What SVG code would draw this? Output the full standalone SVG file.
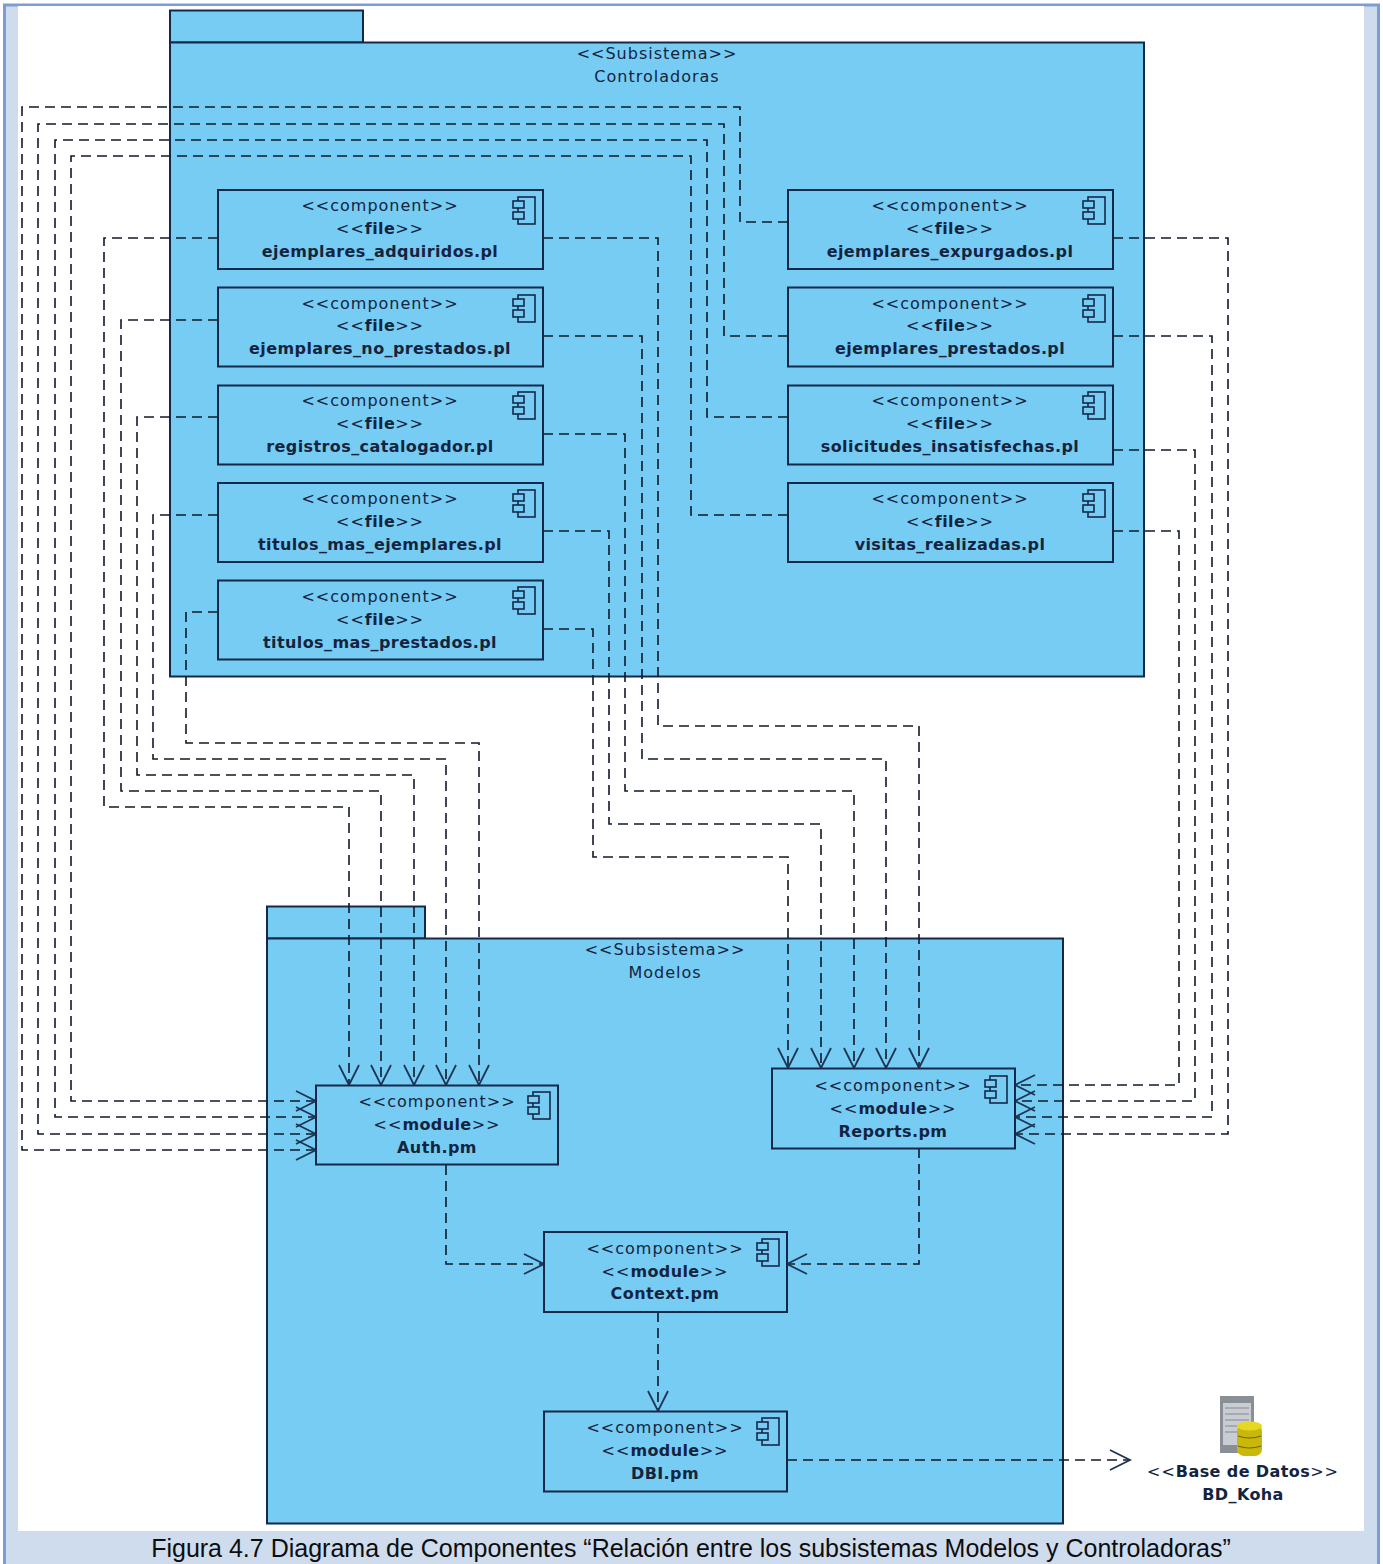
<svg xmlns="http://www.w3.org/2000/svg" width="1383" height="1564" viewBox="0 0 1383 1564">
<style>
.pk{fill:#77ccf3;stroke:#14294a;stroke-width:2}
.cp{fill:#77ccf3;stroke:#14294a;stroke-width:2}
.ic{fill:none;stroke:#14294a;stroke-width:1.6}
.ib{fill:#77ccf3;stroke:#14294a;stroke-width:1.6}
.t{font-family:"DejaVu Sans",sans-serif;font-size:16px;fill:#14243f;text-anchor:middle;letter-spacing:1px}
.b{font-weight:bold;letter-spacing:.4px}
.d{fill:none;stroke:#111a2a;stroke-width:1.6;stroke-dasharray:10 6}
.a{marker-end:url(#ar)}
</style>
<defs>
<marker id="ar" markerUnits="userSpaceOnUse" markerWidth="24" markerHeight="26" refX="21" refY="13" orient="auto"><path d="M1 3L21 13L1 23" fill="none" stroke="#1c3557" stroke-width="1.8"/></marker>
<g id="ico"><rect class="ib" x="-25" y="7" width="17" height="27"/><rect class="ib" x="-30" y="11" width="11" height="7"/><rect class="ib" x="-30" y="22" width="11" height="7"/></g>
</defs>
<rect x="0" y="0" width="1383" height="1564" fill="#fff"/>
<g id="frame">
<rect x="4.500" y="5" width="1374" height="1570" fill="#cfdcee" stroke="#7c9dd3" stroke-width="3"/>
<rect x="18" y="6" width="1346" height="1525" fill="#fff"/>
</g>
<g id="pkg-controladoras">
<rect class="pk" x="170" y="10.500" width="193" height="32"/><rect class="pk" x="170" y="42.500" width="974" height="634"/>
<text class="t" x="657" y="59">&lt;&lt;Subsistema&gt;&gt;</text><text class="t" x="657" y="82">Controladoras</text>
</g>
<g id="pkg-modelos">
<rect class="pk" x="267" y="906.500" width="158" height="32"/><rect class="pk" x="267" y="938.500" width="796" height="585"/>
<text class="t" x="665" y="955">&lt;&lt;Subsistema&gt;&gt;</text><text class="t" x="665" y="978">Modelos</text>
</g>
<g id="connectors">
<path class="d a" d="M218 238H104V807H349V1085"/>
<path class="d a" d="M218 320H121V791H381V1085"/>
<path class="d a" d="M218 417H137V775H414V1085"/>
<path class="d a" d="M218 515H153V759H446V1085"/>
<path class="d a" d="M218 612H186V743H479V1085"/>
<path class="d a" d="M543 238H658V726H919V1068"/>
<path class="d a" d="M543 336H642V759H886V1068"/>
<path class="d a" d="M543 434H625V791H854V1068"/>
<path class="d a" d="M543 531H609V824H821V1068"/>
<path class="d a" d="M543 629H593V857H788V1068"/>
<path class="d a" d="M788 222H740V107H22V1150H316"/>
<path class="d a" d="M788 336H724V124H38V1134H316"/>
<path class="d a" d="M788 417H707V140H55V1117H316"/>
<path class="d a" d="M788 515H691V156H71V1101H316"/>
<path class="d a" d="M1113 238H1228V1134H1015"/>
<path class="d a" d="M1113 336H1212V1117H1015"/>
<path class="d a" d="M1113 450H1195V1101H1015"/>
<path class="d a" d="M1113 531H1179V1085H1015"/>
<path class="d a" d="M446 1165V1264H544"/>
<path class="d a" d="M919 1148V1264H787"/>
<path class="d a" d="M658 1312V1411"/>
<path class="d a" d="M787 1460H1130"/>
</g>
<g id="c1"><rect class="cp" x="218" y="190" width="325" height="79"/><use href="#ico" x="543" y="190"/><text class="t" x="380" y="211">&lt;&lt;component&gt;&gt;</text><text class="t" x="380" y="234">&lt;&lt;<tspan class="b">file</tspan>&gt;&gt;</text><text class="t b" x="380" y="257">ejemplares_adquiridos.pl</text></g>
<g id="c2"><rect class="cp" x="218" y="287.500" width="325" height="79"/><use href="#ico" x="543" y="288"/><text class="t" x="380" y="309">&lt;&lt;component&gt;&gt;</text><text class="t" x="380" y="331">&lt;&lt;<tspan class="b">file</tspan>&gt;&gt;</text><text class="t b" x="380" y="354">ejemplares_no_prestados.pl</text></g>
<g id="c3"><rect class="cp" x="218" y="385.500" width="325" height="79"/><use href="#ico" x="543" y="385"/><text class="t" x="380" y="406">&lt;&lt;component&gt;&gt;</text><text class="t" x="380" y="429">&lt;&lt;<tspan class="b">file</tspan>&gt;&gt;</text><text class="t b" x="380" y="452">registros_catalogador.pl</text></g>
<g id="c4"><rect class="cp" x="218" y="483" width="325" height="79"/><use href="#ico" x="543" y="483"/><text class="t" x="380" y="504">&lt;&lt;component&gt;&gt;</text><text class="t" x="380" y="527">&lt;&lt;<tspan class="b">file</tspan>&gt;&gt;</text><text class="t b" x="380" y="550">titulos_mas_ejemplares.pl</text></g>
<g id="c5"><rect class="cp" x="218" y="580.500" width="325" height="79"/><use href="#ico" x="543" y="580"/><text class="t" x="380" y="602">&lt;&lt;component&gt;&gt;</text><text class="t" x="380" y="625">&lt;&lt;<tspan class="b">file</tspan>&gt;&gt;</text><text class="t b" x="380" y="648">titulos_mas_prestados.pl</text></g>
<g id="c6"><rect class="cp" x="788" y="190" width="325" height="79"/><use href="#ico" x="1113" y="190"/><text class="t" x="950" y="211">&lt;&lt;component&gt;&gt;</text><text class="t" x="950" y="234">&lt;&lt;<tspan class="b">file</tspan>&gt;&gt;</text><text class="t b" x="950" y="257">ejemplares_expurgados.pl</text></g>
<g id="c7"><rect class="cp" x="788" y="287.500" width="325" height="79"/><use href="#ico" x="1113" y="288"/><text class="t" x="950" y="309">&lt;&lt;component&gt;&gt;</text><text class="t" x="950" y="331">&lt;&lt;<tspan class="b">file</tspan>&gt;&gt;</text><text class="t b" x="950" y="354">ejemplares_prestados.pl</text></g>
<g id="c8"><rect class="cp" x="788" y="385.500" width="325" height="79"/><use href="#ico" x="1113" y="385"/><text class="t" x="950" y="406">&lt;&lt;component&gt;&gt;</text><text class="t" x="950" y="429">&lt;&lt;<tspan class="b">file</tspan>&gt;&gt;</text><text class="t b" x="950" y="452">solicitudes_insatisfechas.pl</text></g>
<g id="c9"><rect class="cp" x="788" y="483" width="325" height="79"/><use href="#ico" x="1113" y="483"/><text class="t" x="950" y="504">&lt;&lt;component&gt;&gt;</text><text class="t" x="950" y="527">&lt;&lt;<tspan class="b">file</tspan>&gt;&gt;</text><text class="t b" x="950" y="550">visitas_realizadas.pl</text></g>
<g id="auth"><rect class="cp" x="316" y="1085.500" width="242" height="79"/><use href="#ico" x="558" y="1085"/><text class="t" x="437" y="1107">&lt;&lt;component&gt;&gt;</text><text class="t" x="437" y="1130">&lt;&lt;<tspan class="b">module</tspan>&gt;&gt;</text><text class="t b" x="437" y="1153">Auth.pm</text></g>
<g id="reports"><rect class="cp" x="772" y="1068.500" width="243" height="80"/><use href="#ico" x="1015" y="1069"/><text class="t" x="893" y="1091">&lt;&lt;component&gt;&gt;</text><text class="t" x="893" y="1114">&lt;&lt;<tspan class="b">module</tspan>&gt;&gt;</text><text class="t b" x="893" y="1137">Reports.pm</text></g>
<g id="context"><rect class="cp" x="544" y="1232" width="243" height="80"/><use href="#ico" x="787" y="1232"/><text class="t" x="665" y="1254">&lt;&lt;component&gt;&gt;</text><text class="t" x="665" y="1277">&lt;&lt;<tspan class="b">module</tspan>&gt;&gt;</text><text class="t b" x="665" y="1299">Context.pm</text></g>
<g id="dbi"><rect class="cp" x="544" y="1411.500" width="243" height="80"/><use href="#ico" x="787" y="1411"/><text class="t" x="665" y="1433">&lt;&lt;component&gt;&gt;</text><text class="t" x="665" y="1456">&lt;&lt;<tspan class="b">module</tspan>&gt;&gt;</text><text class="t b" x="665" y="1479">DBI.pm</text></g>
<g id="koha">
<rect x="1220" y="1396" width="34" height="57" fill="#8a8f96"/>
<rect x="1223" y="1403" width="28" height="42" fill="#c9ccd2"/>
<path d="M1225 1408h24M1225 1414h24M1225 1420h24M1225 1426h24M1225 1432h24" stroke="#9a9ea6" stroke-width="1.500"/>
<rect x="1237" y="1424" width="25" height="32" rx="7" fill="#c9b80a"/>
<ellipse cx="1249.500" cy="1426" rx="12.500" ry="4.500" fill="#e6d820"/>
<path d="M1238 1436q11.500 4 23 0M1238 1446q11.500 4 23 0" fill="none" stroke="#6f6500" stroke-width="1.200"/>
<text class="t" x="1243" y="1477">&lt;&lt;<tspan class="b">Base de Datos</tspan>&gt;&gt;</text>
<text class="t b" x="1243" y="1500">BD_Koha</text>
</g>
<text id="caption" x="691" y="1557" font-family="Liberation Sans, Arial, sans-serif" font-size="25" text-anchor="middle" fill="#0d0d0d">Figura 4.7 Diagrama de Componentes “Relación entre los subsistemas Modelos y Controladoras”</text>
</svg>
